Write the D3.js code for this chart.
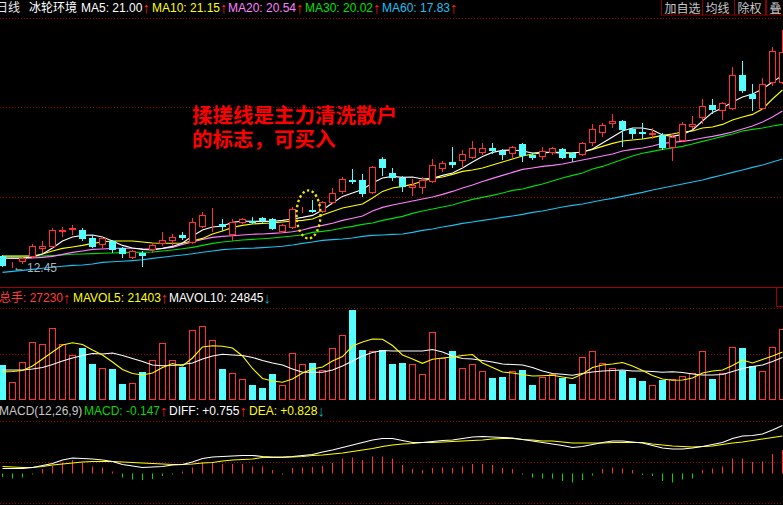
<!DOCTYPE html>
<html><head><meta charset="utf-8">
<script src="https://cdn.jsdelivr.net/npm/d3@7"></script>
<style>
html,body{margin:0;padding:0;background:#000;overflow:hidden;}
svg{display:block;}
text{font-family:"Liberation Sans",Arial,"Noto Sans CJK SC",sans-serif;font-size:12px;}
</style></head><body>
<svg id="c" width="783" height="505"></svg>
<script>
// ---------- price data (daily candles) ----------
const opens = [13.00,12.53,12.75,13.00,13.40,13.50,14.25,14.35,14.30,13.90,
13.60,13.75,13.40,12.95,13.15,13.35,13.65,13.80,14.03,13.70,
14.50,14.78,14.60,14.10,14.70,14.75,14.90,14.85,14.25,14.45,
15.33,15.30,15.25,15.70,16.25,16.80,16.80,16.20,17.85,17.15,
16.90,16.45,16.45,16.75,17.40,17.70,17.80,17.95,18.20,18.40,
18.25,18.15,18.60,18.05,18.00,18.20,18.35,18.15,18.10,18.70,
19.20,19.65,19.75,19.35,19.18,19.10,19.05,18.45,18.80,19.50,
19.95,20.55,20.30,20.40,22.05,21.10,20.40,21.70,21.70];
const closes = [12.55,12.55,12.90,13.50,13.50,14.30,14.30,14.40,13.90,13.50,
13.90,13.35,13.15,13.25,13.05,13.55,13.80,13.95,13.93,14.70,
15.05,14.80,14.50,14.70,14.85,14.70,14.80,14.40,14.55,15.35,
15.35,15.25,15.70,16.15,16.85,16.75,16.15,17.45,17.45,16.95,
16.50,16.55,16.80,17.55,17.65,17.60,18.10,18.40,18.40,18.30,
18.10,18.45,18.05,17.95,18.25,18.40,17.95,17.95,18.65,19.35,
19.55,19.75,19.35,19.15,19.13,19.15,18.45,18.95,19.60,19.60,
20.50,20.35,20.65,22.05,21.30,20.90,21.60,23.25,23.20];
const highs = [13.05,12.70,12.95,13.60,13.75,14.40,14.45,14.55,14.40,14.05,
13.95,13.80,13.45,13.30,13.25,13.65,14.20,14.10,14.20,14.90,
15.20,15.40,14.85,14.85,14.90,14.95,14.95,14.90,14.60,15.45,
15.45,15.80,15.75,16.40,16.95,17.35,17.10,17.50,17.95,17.40,
17.00,16.85,16.95,17.85,17.75,18.45,18.30,18.75,18.65,18.65,
18.35,18.50,18.65,18.15,18.45,18.45,18.40,18.20,18.70,19.60,
19.65,20.10,19.80,19.40,19.65,19.40,19.15,19.15,19.70,20.00,
20.85,20.85,20.70,22.45,22.75,21.60,21.90,23.45,24.30];
const lows = [12.50,12.45,12.65,12.95,13.20,13.45,14.00,14.10,13.80,13.45,
13.40,13.20,12.95,12.90,12.50,13.20,13.55,13.55,13.85,13.65,
14.45,14.25,14.30,13.80,14.65,14.65,14.65,14.35,14.20,14.40,
15.20,15.20,15.20,15.65,16.15,16.65,16.00,16.15,17.05,16.80,
16.25,16.05,16.15,16.70,17.25,17.45,17.45,17.90,18.10,18.15,
17.85,17.95,17.75,17.85,17.85,18.10,17.90,17.75,18.05,18.55,
19.00,19.45,18.50,18.90,18.90,18.90,18.35,17.80,18.75,19.40,
19.65,20.15,19.85,20.35,21.20,20.30,20.35,21.55,21.65];

// ---------- moving averages ----------
const ma5 = [12.90,12.90,12.90,12.95,13.10,13.40,13.75,13.95,14.03,14.05,
13.95,13.75,13.53,13.40,13.33,13.30,13.38,13.48,13.65,14.00,
14.30,14.45,14.50,14.68,14.75,14.73,14.73,14.73,14.78,14.85,
14.93,15.03,15.30,15.65,15.98,16.15,16.33,16.65,16.90,16.98,
16.93,16.95,16.85,16.88,17.03,17.15,17.40,17.70,17.98,18.18,
18.28,18.30,18.25,18.15,18.18,18.18,18.14,18.15,18.20,18.35,
18.65,18.95,19.25,19.40,19.40,19.30,19.05,18.98,19.08,19.30,
19.75,20.18,20.40,20.70,20.95,21.10,21.35,21.70,22.03];
const ma10 = [13.00,13.00,13.00,13.00,13.10,13.25,13.38,13.45,13.53,13.63,
13.70,13.75,13.75,13.75,13.70,13.65,13.64,13.64,13.65,13.75,
13.88,14.10,14.25,14.43,14.53,14.60,14.63,14.65,14.70,14.75,
14.78,14.85,15.05,15.23,15.40,15.50,15.60,15.90,16.23,16.40,
16.48,16.58,16.75,16.88,16.95,17.08,17.23,17.30,17.40,17.55,
17.70,17.85,18.00,18.10,18.15,18.19,18.18,18.15,18.20,18.33,
18.48,18.63,18.75,18.80,18.85,18.93,19.03,19.10,19.20,19.25,
19.40,19.45,19.58,19.80,19.95,20.08,20.35,20.85,21.30];
const ma20 = [12.89,12.88,12.88,12.90,12.93,12.98,13.08,13.18,13.25,13.33,
13.35,13.38,13.39,13.39,13.36,13.35,13.38,13.43,13.58,13.70,
13.83,13.93,13.98,14.01,14.05,14.09,14.10,14.13,14.16,14.21,
14.30,14.43,14.53,14.64,14.78,14.89,15.00,15.25,15.43,15.55,
15.65,15.75,15.85,15.95,16.08,16.23,16.40,16.55,16.73,16.88,
17.03,17.18,17.33,17.40,17.48,17.53,17.60,17.70,17.80,17.90,
18.00,18.10,18.25,18.33,18.40,18.50,18.63,18.68,18.73,18.80,
18.90,18.98,19.08,19.20,19.35,19.50,19.70,19.95,20.25];
const ma30 = [12.98,12.98,12.99,13.00,13.00,13.02,13.05,13.09,13.10,13.12,
13.14,13.15,13.17,13.18,13.19,13.20,13.25,13.30,13.36,13.43,
13.53,13.63,13.70,13.75,13.80,13.83,13.86,13.90,13.95,14.00,
14.05,14.18,14.23,14.30,14.40,14.48,14.58,14.65,14.78,14.88,
14.98,15.13,15.25,15.35,15.45,15.55,15.70,15.83,15.93,16.03,
16.15,16.28,16.35,16.48,16.60,16.75,16.90,17.03,17.15,17.35,
17.48,17.65,17.83,18.00,18.14,18.23,18.33,18.40,18.48,18.60,
18.73,18.85,18.98,19.10,19.25,19.33,19.40,19.50,19.58];
const ma60 = [12.18,12.23,12.28,12.33,12.39,12.44,12.49,12.53,12.55,12.60,
12.68,12.71,12.74,12.77,12.81,12.88,12.94,13.00,13.05,13.11,
13.19,13.25,13.32,13.35,13.38,13.39,13.42,13.45,13.49,13.55,
13.63,13.70,13.78,13.82,13.85,13.90,13.98,14.03,14.05,14.08,
14.10,14.18,14.28,14.35,14.45,14.53,14.63,14.70,14.78,14.85,
14.93,15.00,15.08,15.18,15.25,15.35,15.45,15.53,15.60,15.70,
15.80,15.88,15.98,16.08,16.18,16.30,16.40,16.50,16.60,16.70,
16.80,16.93,17.05,17.18,17.30,17.43,17.55,17.70,17.85];

// ---------- volume (手) ----------
const volumes = [13420,6900,14570,22240,21480,27610,21480,17260,19940,13810,
12270,11890,6140,6520,10740,15340,21860,15340,12660,26850,
28380,23010,11890,10350,8050,5750,4600,9970,5750,18020,
13810,14190,11510,19940,24930,34520,19180,18790,19180,13810,
14190,13810,9970,26080,16110,18790,12270,13810,11120,8440,
8820,11120,11510,5750,8820,9970,8440,6140,16490,18790,
14190,12270,11120,8440,7290,5750,7670,8050,9200,10350,
18790,8050,10350,20330,19940,13040,11120,20330,27230];
const mavol5 = [10740,10930,11310,13040,15720,18410,21090,21970,21280,19180,
17260,14570,11700,10160,9590,10350,12460,14000,13040,16110,
20330,20820,20590,19940,16870,12080,8250,7290,6830,8050,
10350,11890,12660,14960,16680,20710,22240,23390,23280,20900,
17260,15720,14070,15610,16110,16490,17070,17450,14190,12460,
10740,10350,9780,9200,9320,9470,8820,8250,9970,12460,
13420,13810,14380,13040,11310,9400,8050,7550,7670,8440,
10350,11120,11500,13230,15340,14190,15530,16870,18410];
const mavol10 = [11510,11510,11510,11890,12460,13610,14960,16110,17070,17830,
17640,18020,17070,15920,14760,13420,13150,13230,13610,14190,
15720,16870,17530,17260,17070,16300,15150,14190,13420,11890,
10620,10620,10620,11510,13040,14960,16870,18220,18980,18790,
18790,18790,18790,19370,18410,16870,15920,15720,15150,14570,
13810,13610,13420,12460,11120,10160,9860,9470,10160,10740,
11120,11310,11510,11120,11120,10930,10620,10810,10550,9970,
9590,9590,9780,10930,12080,12850,13420,14760,16300];

// ---------- MACD(12,26,9) ----------
const diff = [0.10,0.10,0.10,0.12,0.16,0.20,0.27,0.31,0.30,0.29,
0.27,0.24,0.18,0.15,0.12,0.13,0.14,0.17,0.18,0.23,
0.30,0.33,0.34,0.35,0.36,0.36,0.34,0.33,0.33,0.34,
0.36,0.38,0.43,0.47,0.52,0.57,0.62,0.67,0.70,0.70,
0.66,0.62,0.62,0.64,0.66,0.67,0.70,0.73,0.74,0.73,
0.72,0.71,0.68,0.65,0.62,0.59,0.56,0.52,0.54,0.58,
0.62,0.65,0.65,0.63,0.61,0.56,0.51,0.49,0.49,0.51,
0.54,0.58,0.62,0.70,0.75,0.76,0.79,0.87,0.96];
const dea = [0.14,0.13,0.12,0.12,0.14,0.17,0.19,0.21,0.23,0.24,
0.24,0.24,0.23,0.22,0.21,0.20,0.19,0.18,0.18,0.19,
0.21,0.22,0.25,0.27,0.28,0.29,0.32,0.32,0.32,0.33,
0.34,0.36,0.37,0.39,0.41,0.44,0.47,0.50,0.54,0.57,
0.59,0.60,0.62,0.62,0.63,0.64,0.65,0.66,0.67,0.69,
0.70,0.70,0.68,0.67,0.65,0.65,0.63,0.61,0.61,0.61,
0.61,0.62,0.62,0.62,0.62,0.59,0.57,0.55,0.54,0.53,
0.54,0.55,0.58,0.61,0.63,0.66,0.69,0.72,0.75];
const macdHist = [-0.06,-0.09,-0.07,-0.01,0.08,0.14,0.21,0.26,0.21,0.13,
0.11,0.03,-0.07,-0.11,-0.12,-0.10,-0.04,-0.01,0.03,0.11,
0.21,0.22,0.18,0.18,0.18,0.13,0.13,0.06,-0.01,0.10,
0.11,0.12,0.14,0.20,0.29,0.31,0.26,0.33,0.33,0.29,
0.16,0.08,0.06,0.10,0.11,0.10,0.13,0.18,0.18,0.16,
0.10,0.08,-0.01,-0.07,-0.09,-0.09,-0.14,-0.17,-0.12,-0.03,
0.08,0.11,0.09,0.06,-0.02,-0.04,-0.14,-0.17,-0.11,-0.09,
0.06,0.09,0.13,0.29,0.29,0.22,0.23,0.38,0.46];

// ---------- texts ----------
const titleLabels = ["日线", "冰轮环境"];
const maLabels = ["MA5: 21.00", "MA10: 21.15", "MA20: 20.54", "MA30: 20.02", "MA60: 17.83"];
const maArrows = ["↑", "↑", "↑", "↑", "↑"];
const volLabels = ["总手: 27230", "MAVOL5: 21403", "MAVOL10: 24845"];
const volArrows = ["↑", "↑", "↓"];
const macdLabels = ["MACD(12,26,9)", "MACD: -0.147", "DIFF: +0.755", "DEA: +0.828"];
const macdArrows = ["", "↑", "↑", "↓"];
const buttonLabels = ["加自选", "均线", "除权", "叠"];
const noteLines = ["揉搓线是主力清洗散户", "的标志，可买入"];
const lowLabel = "12.45";

// ---------- drawing ----------
const RED = "#ff3232", CYAN = "#54ffff", GRID = "#9a0000";
const UPARROW = "#ff2020", DOWNARROW = "#18a8b8";
const maColors = ["#ffffff", "#ffff00", "#ff80ff", "#00e000", "#1cc0f0"];
const N = closes.length;
const xs = d3.scaleLinear().domain([0, N - 1]).range([2, 782]);
const yP = d3.scaleLinear().domain([12, 25]).range([276, 16]);
const yV = d3.scaleLinear().domain([0, 38350]).range([400, 300]);
const yM = d3.scaleLinear().domain([-0.5, 1]).range([498.5, 423.5]);

const svg = d3.select("#c");
svg.append("rect").attr("width", 783).attr("height", 505).attr("fill", "#000");

// dotted grid
[18.5, 107.5, 197.5, 308.5, 354.5, 421.5, 462.5, 503.5].forEach(gy => {
  svg.append("line").attr("x1", 0).attr("x2", 783).attr("y1", gy).attr("y2", gy)
    .attr("stroke", GRID).attr("stroke-width", 1).attr("stroke-dasharray", "1,2");
});
// panel separator
svg.append("line").attr("x1", 0).attr("x2", 783).attr("y1", 287.5).attr("y2", 287.5)
  .attr("stroke", "#a00000").attr("stroke-width", 1);
svg.append("rect").attr("x", 776.5).attr("y", 287.5).attr("width", 10).attr("height", 19)
  .attr("fill", "none").attr("stroke", "#a00000");

// MA lines on price
const maSeries = [ma5, ma10, ma20, ma30, ma60];
const priceLine = d3.line().x((d, i) => xs(i) + 0.5).y(d => yP(d));
[4, 3, 2, 1, 0].forEach(k => {
  svg.append("path").attr("d", priceLine(maSeries[k])).attr("fill", "none")
    .attr("stroke", maColors[k]).attr("stroke-width", 1.1);
});

// candles
const gC = svg.append("g");
d3.range(N).forEach(i => {
  const up = closes[i] >= opens[i];
  const c = Math.round(xs(i));
  const col = up ? RED : CYAN;
  const yH = Math.round(yP(highs[i])), yL = Math.round(yP(lows[i]));
  const yT = Math.round(yP(Math.max(opens[i], closes[i])));
  const yB = Math.round(yP(Math.min(opens[i], closes[i])));
  gC.append("line").attr("x1", c + 0.5).attr("x2", c + 0.5).attr("y1", yH).attr("y2", yL + 1)
    .attr("stroke", col).attr("stroke-width", 1);
  if (up) {
    gC.append("rect").attr("x", c - 2.5).attr("y", yT + 0.5).attr("width", 6)
      .attr("height", Math.max(yB - yT, 0)).attr("fill", "#000").attr("stroke", col).attr("stroke-width", 1);
  } else {
    gC.append("rect").attr("x", c - 3).attr("y", yT).attr("width", 7)
      .attr("height", yB - yT + 1).attr("fill", col);
  }
});

// volume bars
const gV = svg.append("g");
d3.range(N).forEach(i => {
  const up = closes[i] >= opens[i];
  const c = Math.round(xs(i));
  const top = Math.round(yV(volumes[i]));
  if (up) {
    gV.append("rect").attr("x", c - 2.5).attr("y", top + 0.5).attr("width", 6)
      .attr("height", 400 - top - 1).attr("fill", "#000").attr("stroke", RED).attr("stroke-width", 1);
  } else {
    gV.append("rect").attr("x", c - 3).attr("y", top).attr("width", 7)
      .attr("height", 400 - top).attr("fill", CYAN);
  }
});
const volLine = d3.line().x((d, i) => xs(i) + 0.5).y(d => yV(d));
svg.append("path").attr("d", volLine(mavol10)).attr("fill", "none").attr("stroke", "#ffffff").attr("stroke-width", 1.1);
svg.append("path").attr("d", volLine(mavol5)).attr("fill", "none").attr("stroke", "#ffff00").attr("stroke-width", 1.1);

// MACD bars + lines
const gM = svg.append("g");
d3.range(N).forEach(i => {
  const c = Math.round(xs(i));
  const v = macdHist[i];
  gM.append("line").attr("x1", c + 0.5).attr("x2", c + 0.5)
    .attr("y1", yM(0)).attr("y2", yM(v) + (v >= 0 ? -0.5 : 0.5))
    .attr("stroke", v >= 0 ? RED : "#00d800").attr("stroke-width", 1);
});
const mLine = d3.line().x((d, i) => xs(i) + 0.5).y(d => yM(d));
svg.append("path").attr("d", mLine(dea)).attr("fill", "none").attr("stroke", "#ffff00").attr("stroke-width", 1.1);
svg.append("path").attr("d", mLine(diff)).attr("fill", "none").attr("stroke", "#ffffff").attr("stroke-width", 1.1);

// low marker
const lowIdx = d3.minIndex(lows);
svg.append("text").attr("x", xs(lowIdx) + 1).attr("y", yP(lows[lowIdx]) + 4)
  .attr("fill", "#b8c0c8").style("font-size", "12px").text("←");
svg.append("text").attr("x", xs(lowIdx) + 15).attr("y", yP(lows[lowIdx]) + 5)
  .attr("fill", "#a8b4c4").style("font-size", "12px").text(lowLabel);

// annotation ring around the spinning-top bars
svg.append("ellipse").attr("cx", (xs(30) + xs(31)) / 2 + 1.5).attr("cy", yP(15.08))
  .attr("rx", 12).attr("ry", 24).attr("fill", "none").attr("stroke", "#e8e800")
  .attr("stroke-width", 2.4).attr("stroke-dasharray", "2.4,2.6");

// annotation text (one text block, two lines)
const note = svg.append("text").attr("x", 192).attr("y", 123)
  .attr("fill", "#ff0000").style("font-size", "20.5px").style("font-weight", "bold")
  .style("font-family", "'Noto Sans CJK SC', sans-serif");
noteLines.forEach((t, k) => {
  note.append("tspan").attr("x", 192).attr("dy", k === 0 ? 0 : 24).text(t);
});

// header row
function labelRow(y, items) {
  items.forEach(it => {
    const t = svg.append("text").attr("x", it.x).attr("y", y);
    t.append("tspan").attr("fill", it.color).text(it.text);
    if (it.arrow) t.append("tspan").attr("fill", it.arrowColor)
      .style("font-size", "15px").attr("dy", 1).text(it.arrow);
  });
}
labelRow(12, [
  { x: -4, text: titleLabels[0], color: "#e8e8e8" },
  { x: 29, text: titleLabels[1], color: "#ffffff" }
].concat(maLabels.map((t, k) => ({
  x: [81, 152, 228, 305, 382][k], text: t, color: maColors[k],
  arrow: maArrows[k], arrowColor: UPARROW
}))));

labelRow(302, volLabels.map((t, k) => ({
  x: [-1, 73, 169][k], text: t, color: ["#ff3c3c", "#ffff00", "#ffffff"][k],
  arrow: volArrows[k], arrowColor: volArrows[k] === "↑" ? UPARROW : DOWNARROW
})));

labelRow(415, macdLabels.map((t, k) => ({
  x: [-1, 84, 169, 249][k], text: t, color: ["#c8c8c8", "#00d800", "#ffffff", "#ffff00"][k],
  arrow: macdArrows[k], arrowColor: macdArrows[k] === "↑" ? UPARROW : DOWNARROW
})));

// buttons top-right
const bx = [661.5, 702.5, 734.5, 766.5], bw = [41, 32, 31, 30];
buttonLabels.forEach((t, k) => {
  svg.append("rect").attr("x", bx[k]).attr("y", -1).attr("width", bw[k]).attr("height", 16)
    .attr("fill", "#000").attr("stroke", "#8a0000");
  svg.append("text").attr("x", bx[k] + 3).attr("y", 12.5).attr("fill", "#c8c8c8")
    .style("font-size", "12px").style("font-family", "'Noto Sans CJK SC', sans-serif").text(t);
});
</script>
</body></html>
